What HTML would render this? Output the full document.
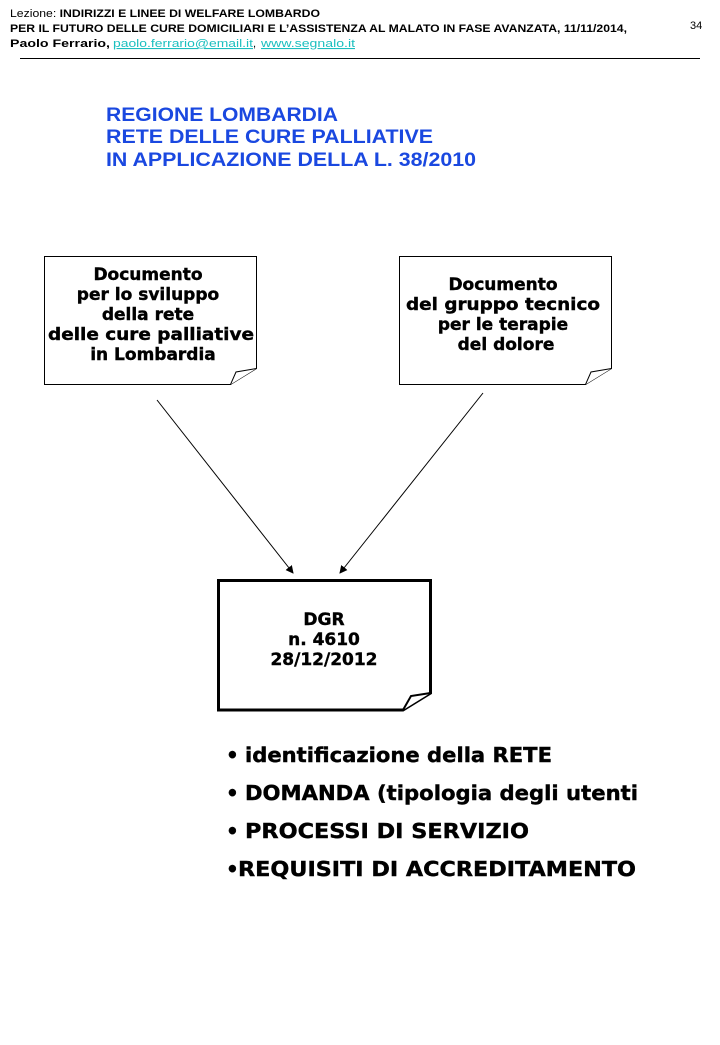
<!DOCTYPE html>
<html><head><meta charset="utf-8"><style>
html,body{margin:0;padding:0;background:#fff;}
</style></head><body>
<svg width="720" height="1040" viewBox="0 0 720 1040" xmlns="http://www.w3.org/2000/svg">
<defs><marker id="ah" markerWidth="8" markerHeight="8" refX="7" refY="4" orient="auto" markerUnits="userSpaceOnUse"><path d="M0,0 L8,4 L0,8 Z" fill="#000"/></marker></defs>
<g font-family="Liberation Sans, sans-serif" font-size="11">
<text x="10" y="17" textLength="310" lengthAdjust="spacingAndGlyphs">Lezione: <tspan font-weight="bold">INDIRIZZI E LINEE DI WELFARE LOMBARDO</tspan></text>
<text x="10" y="32" font-weight="bold" textLength="617" lengthAdjust="spacingAndGlyphs">PER IL FUTURO DELLE CURE DOMICILIARI E L’ASSISTENZA AL MALATO IN FASE AVANZATA, 11/11/2014,</text>
<text x="10" y="47" font-weight="bold" textLength="100" lengthAdjust="spacingAndGlyphs">Paolo Ferrario,</text>
<text x="113" y="47" fill="#1bbfbf" text-decoration="underline" textLength="140" lengthAdjust="spacingAndGlyphs">paolo.ferrario@email.it</text>
<text x="253" y="47">,</text>
<text x="261" y="47" fill="#1bbfbf" text-decoration="underline" textLength="94" lengthAdjust="spacingAndGlyphs">www.segnalo.it</text>
<text x="690" y="29">34</text>
</g>
<line x1="20" y1="58.5" x2="700" y2="58.5" stroke="#000" stroke-width="1"/>
<g font-family="Liberation Sans, sans-serif" font-size="19" font-weight="bold" fill="#1a48e0">
<text x="106" y="121" textLength="232" lengthAdjust="spacingAndGlyphs">REGIONE LOMBARDIA</text>
<text x="106" y="143" textLength="327" lengthAdjust="spacingAndGlyphs">RETE DELLE CURE PALLIATIVE</text>
<text x="106" y="166" textLength="370" lengthAdjust="spacingAndGlyphs">IN APPLICAZIONE DELLA L. 38/2010</text>
</g>
<g fill="#fff" stroke="#000" stroke-width="1">
<path d="M44.5,256.5 H256.5 V368.5 L230.5,384.5 H44.5 Z"/>
<path d="M230.5,384.5 L236,372 L256.5,368.5"/>
<path d="M399.5,256.5 H611.5 V368.5 L585.5,384.5 H399.5 Z"/>
<path d="M585.5,384.5 L591,372 L611.5,368.5"/>
</g>
<g fill="#fff" stroke="#000" stroke-width="3">
<path d="M218.5,580.5 H430.5 V693 L403,710 H218.5 Z"/>
<path d="M403,710 L411,696 L430.5,693" stroke-width="2"/>
</g>
<g stroke="#000" stroke-width="1">
<line x1="157" y1="400" x2="293" y2="573" marker-end="url(#ah)"/>
<line x1="483" y1="393" x2="340" y2="573" marker-end="url(#ah)"/>
</g>
<g font-family="DejaVu Sans, Verdana, sans-serif" font-size="17" font-weight="bold" text-anchor="middle" stroke="#000" stroke-width="0.4">
<text x="148" y="280">Documento</text>
<text x="148" y="300">per lo sviluppo</text>
<text x="148" y="320">della rete</text>
<text x="151" y="340" textLength="206" lengthAdjust="spacingAndGlyphs">delle cure palliative</text>
<text x="153" y="360">in Lombardia</text>
<text x="503" y="290">Documento</text>
<text x="503" y="310" textLength="194" lengthAdjust="spacingAndGlyphs">del gruppo tecnico</text>
<text x="503" y="330">per le terapie</text>
<text x="506" y="350">del dolore</text>
<text x="324" y="625">DGR</text>
<text x="324" y="645">n. 4610</text>
<text x="324" y="665">28/12/2012</text>
</g>
<g font-family="DejaVu Sans, Verdana, sans-serif" font-size="20" font-weight="bold" stroke="#000" stroke-width="0.4">
<text x="226" y="762">•</text><text x="245" y="762" textLength="307" lengthAdjust="spacingAndGlyphs">identificazione della RETE</text>
<text x="226" y="800">•</text><text x="245" y="800" textLength="393" lengthAdjust="spacingAndGlyphs">DOMANDA (tipologia degli utenti</text>
<text x="226" y="838">•</text><text x="245" y="838" textLength="284" lengthAdjust="spacingAndGlyphs">PROCESSI DI SERVIZIO</text>
<text x="226" y="876">•</text><text x="238" y="876" textLength="398" lengthAdjust="spacingAndGlyphs">REQUISITI DI ACCREDITAMENTO</text>
</g>
</svg>
</body></html>
